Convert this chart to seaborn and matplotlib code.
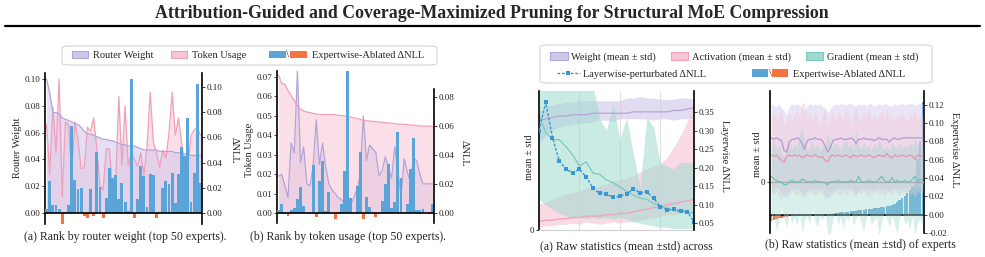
import matplotlib
matplotlib.use("Agg")
import matplotlib.pyplot as plt
import seaborn as sns
import numpy as np
import pandas as pd
from matplotlib.patches import Patch, Rectangle, FancyBboxPatch
from matplotlib.lines import Line2D
from matplotlib.text import Text
from matplotlib.legend_handler import HandlerBase

# ---------------- data ----------------
# (a) top-50 experts ranked by router weight
rw_a = [0.100, 0.090, 0.075, 0.075, 0.074, 0.071, 0.070, 0.069, 0.068, 0.067,
        0.066, 0.064, 0.061, 0.059, 0.059, 0.058, 0.057, 0.056, 0.055, 0.055,
        0.054, 0.054, 0.053, 0.052, 0.051, 0.051, 0.050, 0.050, 0.050, 0.049,
        0.048, 0.047, 0.047, 0.047, 0.047, 0.047, 0.046, 0.046, 0.046, 0.046,
        0.046, 0.045, 0.045, 0.045, 0.044, 0.044, 0.043, 0.043, 0.043, 0.043]
tok_a = [0.066, 0.029, 0.079, 0.045, 0.100, 0.012, 0.068, 0.066, 0.030, 0.068,
         0.055, 0.033, 0.034, 0.064, 0.061, 0.071, 0.048, 0.021, 0.017, 0.048,
         0.048, 0.018, 0.023, 0.087, 0.036, 0.080, 0.035, 0.045, 0.040, 0.035,
         0.045, 0.028, 0.050, 0.090, 0.053, 0.045, 0.034, 0.047, 0.041, 0.060,
         0.090, 0.058, 0.071, 0.053, 0.036, 0.034, 0.058, 0.062, 0.064, 0.058]
dnll_a = [0.003, 0.025, 0.006, 0.006, 0.003, -0.0095, 0.0005, 0.006, 0.069, 0.026,
          0.019, 0.020, -0.002, -0.004, 0.019, -0.002, 0.048, 0.021, -0.004, 0.012,
          0.036, 0.028, 0.030, 0.011, 0.024, 0.009, 0.002, 0.106, -0.004, 0.011,
          0.037, 0.029, 0.005, 0.031, 0.030, -0.004, 0.001, 0.020, 0.025, 0.023,
          0.032, 0.008, 0.031, 0.052, 0.045, 0.075, 0.0085, 0.032, 0.102, 0.024]

# (b) top-50 experts ranked by token usage
tok_b = [0.071, 0.0667, 0.0664, 0.063, 0.0605, 0.058, 0.055, 0.0535, 0.0525, 0.052,
         0.0517, 0.0513, 0.051, 0.0508, 0.0507, 0.0507, 0.0507, 0.0507, 0.0505, 0.0503,
         0.0502, 0.050, 0.0497, 0.0493, 0.049, 0.0487, 0.0482, 0.0477, 0.0475, 0.0473,
         0.0472, 0.047, 0.0468, 0.0467, 0.0465, 0.0463, 0.0462, 0.046, 0.0458, 0.0457,
         0.0457, 0.0455, 0.0453, 0.0452, 0.045, 0.0448, 0.0448, 0.0447, 0.0447, 0.0445]
rw_b = [0.019, 0.020, 0.014, 0.008, 0.036, 0.031, 0.073, 0.026, 0.034, 0.015,
        0.014, 0.024, 0.048, 0.025, 0.036, 0.024, 0.015, 0.012, 0.010, 0.008,
        0.007, 0.005, 0.005, 0.004, 0.008, 0.012, 0.020, 0.050, 0.027, 0.035,
        0.033, 0.031, 0.019, 0.022, 0.029, 0.023, 0.018, 0.034, 0.022, 0.008,
        0.028, 0.021, 0.016, 0.028, 0.027, 0.020, 0.015, 0.015, 0.015, 0.015]
dnll_b = [0.002, 0.0064, -0.001, -0.002, 0.002, 0.0037, 0.0097, 0.018, 0.005, 0.0003,
          0.001, 0.033, -0.0025, 0.022, 0.036, 0.0015, 0.0147, 0.0003, -0.004, 0.0005,
          0.0064, 0.029, 0.098, 0.010, 0.0003, 0.0189, 0.042, -0.004, 0.0108, 0.0043,
          0.001, -0.003, 0.0005, 0.008, 0.020, 0.034, 0.0035, 0.0075, 0.056, 0.024,
          0.001, 0.006, 0.030, 0.052, 0.0021, 0.0021, 0.0027, 0.0003, -0.001, 0.006]

# (c) raw statistics across 24 layers
w_mean_c = [0.79, 0.80, 0.81, 0.82, 0.82, 0.83, 0.83, 0.83, 0.84, 0.84, 0.84, 0.84,
            0.84, 0.84, 0.85, 0.85, 0.85, 0.85, 0.85, 0.85, 0.86, 0.86, 0.87, 0.88]
w_hi_c = [0.86, 0.89, 0.90, 0.91, 0.92, 0.92, 0.93, 0.93, 0.93, 0.93, 0.93, 0.93,
          0.93, 0.95, 0.95, 0.96, 0.95, 0.95, 0.94, 0.94, 0.94, 0.95, 0.95, 0.94]
w_lo_c = [0.62, 0.68, 0.72, 0.74, 0.75, 0.76, 0.77, 0.77, 0.78, 0.79, 0.79, 0.78,
          0.80, 0.80, 0.80, 0.80, 0.80, 0.79, 0.80, 0.80, 0.79, 0.80, 0.80, 0.81]
a_mean_c = [0.06, 0.07, 0.07, 0.08, 0.08, 0.09, 0.09, 0.10, 0.10, 0.10, 0.11, 0.11,
            0.12, 0.12, 0.13, 0.14, 0.15, 0.16, 0.17, 0.18, 0.19, 0.20, 0.21, 0.22]
a_hi_c = [0.19, 0.20, 0.22, 0.24, 0.26, 0.27, 0.28, 0.30, 0.31, 0.32, 0.33, 0.35,
          0.36, 0.37, 0.39, 0.42, 0.44, 0.46, 0.48, 0.52, 0.60, 0.68, 0.78, 0.92]
a_lo_c = [0.02, 0.03, 0.03, 0.04, 0.04, 0.05, 0.04, 0.06, 0.05, 0.04, 0.05, 0.06,
          0.05, 0.06, 0.06, 0.07, 0.08, 0.09, 0.10, 0.11, 0.11, 0.12, 0.12, 0.12]
g_mean_c = [0.83, 0.70, 0.65, 0.65, 0.60, 0.54, 0.46, 0.49, 0.41, 0.40, 0.36, 0.34,
            0.31, 0.28, 0.25, 0.23, 0.22, 0.19, 0.17, 0.16, 0.14, 0.13, 0.13, 0.12]
g_hi_c = [1.30, 1.30, 1.30, 1.30, 1.30, 1.30, 1.30, 1.25, 1.05, 0.80, 0.72, 0.91,
          0.65, 0.81, 0.55, 0.31, 0.81, 0.74, 0.48, 0.46, 0.44, 0.49, 0.48, 0.49]
g_lo_c = [0.22, 0.18, 0.15, 0.12, 0.10, 0.09, 0.09, 0.08, 0.09, 0.08, 0.09, 0.08,
          0.09, 0.08, 0.06, 0.05, 0.04, 0.03, 0.02, 0.02, 0.01, 0.01, 0.01, 0.01]
layer_dnll = [0.300, 0.376, 0.281, 0.218, 0.195, 0.186, 0.195, 0.175, 0.144, 0.130, 0.128, 0.119,
              0.122, 0.129, 0.142, 0.132, 0.134, 0.117, 0.094, 0.085, 0.087, 0.083, 0.081, 0.054]

# (d) raw statistics of 60 experts, sorted by expertwise dNLL
w_mean_d = [0.31, 0.30, 0.31, 0.30, 0.29, 0.22, 0.21, 0.28, 0.30, 0.30,
            0.31, 0.30, 0.27, 0.23, 0.29, 0.30, 0.30, 0.31, 0.30, 0.30,
            0.29, 0.25, 0.21, 0.24, 0.29, 0.30, 0.30, 0.31, 0.30, 0.30,
            0.30, 0.31, 0.30, 0.27, 0.30, 0.30, 0.31, 0.30, 0.30, 0.30,
            0.29, 0.30, 0.31, 0.30, 0.30, 0.30, 0.28, 0.30, 0.31, 0.30,
            0.30, 0.31, 0.31, 0.31, 0.31, 0.31, 0.31, 0.31, 0.31, 0.31]
w_hi_d = [0.55, 0.54, 0.53, 0.55, 0.52, 0.50, 0.48, 0.53, 0.55, 0.54,
          0.55, 0.54, 0.52, 0.50, 0.54, 0.55, 0.54, 0.55, 0.54, 0.55,
          0.53, 0.52, 0.49, 0.51, 0.54, 0.55, 0.54, 0.55, 0.55, 0.54,
          0.55, 0.55, 0.54, 0.53, 0.55, 0.54, 0.55, 0.54, 0.55, 0.55,
          0.53, 0.54, 0.55, 0.54, 0.55, 0.55, 0.53, 0.54, 0.55, 0.54,
          0.55, 0.55, 0.54, 0.55, 0.55, 0.55, 0.54, 0.55, 0.55, 0.55]
w_lo_d = [-0.05, -0.06, -0.04, -0.05, -0.07, -0.10, -0.11, -0.06, -0.05, -0.05,
          -0.04, -0.05, -0.08, -0.10, -0.06, -0.05, -0.05, -0.04, -0.05, -0.05,
          -0.06, -0.09, -0.12, -0.10, -0.06, -0.05, -0.05, -0.04, -0.05, -0.05,
          -0.05, -0.04, -0.05, -0.08, -0.05, -0.05, -0.04, -0.05, -0.05, -0.05,
          -0.06, -0.05, -0.04, -0.05, -0.05, -0.05, -0.07, -0.05, -0.04, -0.05,
          -0.05, -0.04, -0.04, -0.04, -0.04, -0.04, -0.04, -0.04, -0.04, -0.04]
a_mean_d = [0.19, 0.18, 0.19, 0.17, 0.15, 0.14, 0.18, 0.19, 0.18, 0.19,
            0.18, 0.19, 0.17, 0.18, 0.19, 0.18, 0.18, 0.19, 0.18, 0.17,
            0.18, 0.15, 0.14, 0.18, 0.19, 0.18, 0.19, 0.18, 0.18, 0.19,
            0.18, 0.17, 0.19, 0.18, 0.18, 0.19, 0.18, 0.18, 0.19, 0.18,
            0.17, 0.18, 0.19, 0.18, 0.18, 0.20, 0.18, 0.17, 0.19, 0.18,
            0.18, 0.19, 0.18, 0.18, 0.19, 0.18, 0.16, 0.19, 0.18, 0.19]
a_hi_d = [0.46, 0.50, 0.42, 0.48, 0.52, 0.40, 0.44, 0.49, 0.43, 0.47,
          0.51, 0.45, 0.55, 0.56, 0.44, 0.48, 0.42, 0.50, 0.46, 0.41,
          0.47, 0.52, 0.39, 0.45, 0.49, 0.43, 0.50, 0.47, 0.44, 0.52,
          0.46, 0.41, 0.48, 0.53, 0.45, 0.42, 0.49, 0.46, 0.51, 0.44,
          0.48, 0.43, 0.47, 0.50, 0.45, 0.52, 0.44, 0.47, 0.41, 0.49,
          0.46, 0.50, 0.45, 0.43, 0.48, 0.46, 0.51, 0.44, 0.47, 0.45]
a_lo_d = [-0.07, -0.09, -0.06, -0.10, -0.12, -0.08, -0.07, -0.09, -0.06, -0.08,
          -0.10, -0.07, -0.11, -0.09, -0.06, -0.08, -0.07, -0.10, -0.08, -0.06,
          -0.09, -0.12, -0.08, -0.07, -0.09, -0.06, -0.08, -0.10, -0.07, -0.09,
          -0.08, -0.06, -0.10, -0.09, -0.07, -0.08, -0.06, -0.09, -0.10, -0.07,
          -0.08, -0.06, -0.09, -0.07, -0.10, -0.08, -0.06, -0.09, -0.07, -0.08,
          -0.10, -0.07, -0.08, -0.06, -0.09, -0.08, -0.11, -0.07, -0.08, -0.07]
g_mean_d = [0.04, 0.02, 0.01, 0.00, 0.00, -0.02, -0.02, 0.00, 0.01, 0.00,
            0.00, 0.00, 0.02, 0.01, 0.00, 0.00, 0.00, 0.01, 0.00, 0.00,
            0.00, -0.01, -0.02, 0.00, 0.00, 0.00, 0.01, 0.00, 0.00, 0.00,
            0.00, 0.01, 0.00, 0.00, 0.04, 0.00, 0.00, 0.00, 0.01, 0.00,
            0.00, 0.00, 0.02, 0.04, 0.01, 0.00, 0.00, 0.03, 0.00, 0.01,
            0.00, 0.00, 0.01, 0.00, 0.00, 0.02, 0.04, 0.00, 0.02, 0.01]
g_hi_d = [0.24, 0.30, 0.22, 0.26, 0.20, 0.18, 0.25, 0.28, 0.22, 0.27,
          0.24, 0.33, 0.38, 0.26, 0.22, 0.25, 0.29, 0.23, 0.27, 0.21,
          0.26, 0.24, 0.35, 0.27, 0.23, 0.28, 0.25, 0.22, 0.26, 0.31,
          0.24, 0.27, 0.22, 0.36, 0.25, 0.23, 0.28, 0.24, 0.26, 0.22,
          0.27, 0.24, 0.30, 0.25, 0.23, 0.26, 0.22, 0.28, 0.25, 0.24,
          0.27, 0.23, 0.26, 0.24, 0.28, 0.25, 0.30, 0.26, 0.24, 0.25]
g_lo_d = [-0.30, -0.22, -0.35, -0.28, -0.18, -0.26, -0.33, -0.20, -0.29, -0.25,
          -0.31, -0.22, -0.36, -0.27, -0.24, -0.30, -0.19, -0.28, -0.32, -0.23,
          -0.27, -0.21, -0.38, -0.37, -0.26, -0.22, -0.30, -0.25, -0.33, -0.24,
          -0.28, -0.20, -0.31, -0.26, -0.23, -0.29, -0.35, -0.25, -0.22, -0.30,
          -0.27, -0.24, -0.38, -0.28, -0.21, -0.26, -0.32, -0.24, -0.29, -0.37,
          -0.25, -0.22, -0.30, -0.27, -0.33, -0.24, -0.38, -0.28, -0.26, -0.30]
dnll_d = [-0.0065, -0.0055, -0.0045, -0.0038, -0.0032, -0.0027, -0.0022, -0.0018, -0.0014, -0.0011,
          -0.0008, -0.0005, -0.0003, 0.0, 0.0, 0.0, 0.0001, 0.0001, 0.0002, 0.0002,
          0.0003, 0.0004, 0.0005, 0.0008, 0.0012, 0.0016, 0.0020, 0.0024, 0.0028, 0.0031,
          0.0034, 0.0037, 0.0040, 0.0043, 0.0046, 0.0050, 0.0054, 0.0058, 0.0062, 0.0066,
          0.0070, 0.0074, 0.0078, 0.0082, 0.0086, 0.0091, 0.0096, 0.0105, 0.0118, 0.0135,
          0.0155, 0.0180, 0.0205, 0.0235, 0.0270, 0.0310, 0.0380, 0.0610, 0.0800, 0.1230]

# ---------------- style ----------------
PURPLE_FILL, PURPLE_LINE = "#cfc6ea", "#b4a5d8"
PINK_FILL, PINK_LINE = "#f6c6d6", "#f0a0bb"
TEAL_FILL, TEAL_LINE = "#9fd9cf", "#79cbbd"
BLUE, ORANGE = "#5ba4d8", "#f4733f"
LINE_BLUE = "#3b96d4"

sns.set_theme(style="white")
plt.rcParams["font.family"] = ["Liberation Serif", "DejaVu Serif"]
plt.rcParams["mathtext.fontset"] = "stix"
TICK_FS, LAB_FS, LEG_FS, CAP_FS = 6.5, 7.5, 7.5, 8.5

W, H = 985, 257
fig = plt.figure(figsize=(W / 100, H / 100), dpi=100)


def box(l, t, r, b):
    return [l / W, 1 - b / H, (r - l) / W, (b - t) / H]


def ftext(x, y, s, **kw):
    fig.text(x / W, 1 - y / H, s, ha="center", va="center", **kw)


def style_axes(ax, ax2):
    for a in (ax, ax2):
        for s in ("top", "bottom"):
            a.spines[s].set_visible(False)
    ax.spines["right"].set_visible(False)
    ax2.spines["left"].set_visible(False)
    ax.spines["left"].set_color("black")
    ax.spines["left"].set_linewidth(1.2)
    ax2.spines["right"].set_color("black")
    ax2.spines["right"].set_linewidth(1.2)
    ax.tick_params(axis="y", left=True, length=2, width=0.6, pad=1.5, labelsize=TICK_FS, colors="#222222")
    ax2.tick_params(axis="y", right=True, length=2, width=0.6, pad=1.5, labelsize=TICK_FS, colors="#222222")
    ax.tick_params(axis="x", bottom=False, labelbottom=False)
    ax.set_xlabel("")
    ax.set_ylabel("")
    ax2.set_xlabel("")
    ax2.set_ylabel("")


def dnll_bars(ax2, vals):
    df = pd.DataFrame({"expert": np.arange(len(vals)), "dnll": vals})
    df["sign"] = np.where(df["dnll"] >= 0, "pos", "neg")
    sns.barplot(data=df, x="expert", y="dnll", hue="sign", palette={"pos": BLUE, "neg": ORANGE},
                dodge=False, width=0.92, saturation=1, legend=False, ax=ax2, linewidth=0)
    ax2.axhline(0, color="black", lw=1.2, zorder=5)


def rank_panel(rect, line_main, line_other, dnll, col_main, col_other, ylim1, ylim2, yt1, yt2):
    ax = fig.add_axes(box(*rect))
    x = np.arange(len(line_main))
    ax.fill_between(x, 0, line_other, color=col_other[0], alpha=0.55, lw=0)
    sns.lineplot(x=x, y=line_other, color=col_other[1], lw=0.9, ax=ax)
    ax.fill_between(x, 0, line_main, color=col_main[0], alpha=0.55, lw=0)
    sns.lineplot(x=x, y=line_main, color=col_main[1], lw=0.9, ax=ax)
    ax2 = ax.twinx()
    dnll_bars(ax2, dnll)
    ax.set_xlim(-0.5, len(x) - 0.5)
    ax2.set_xlim(-0.5, len(x) - 0.5)
    ax.set_ylim(*ylim1)
    ax2.set_ylim(*ylim2)
    ax.set_yticks(yt1)
    ax2.set_yticks(yt2)
    ax.yaxis.set_major_formatter(matplotlib.ticker.FormatStrFormatter("%.2f"))
    ax2.yaxis.set_major_formatter(matplotlib.ticker.FormatStrFormatter("%.2f"))
    style_axes(ax, ax2)
    ax2.set_xticks([0, 10, 20, 30, 40])
    ax2.tick_params(axis="x", bottom=True, length=1.5, width=0.6, labelbottom=False)
    return ax, ax2


# ---------------- title ----------------
ftext(492, 13, "Attribution-Guided and Coverage-Maximized Pruning for Structural MoE Compression",
      fontsize=12.8, fontweight="bold")
fig.add_artist(Line2D([5 / W, 980 / W], [1 - 26 / H] * 2, color="black", lw=1.6))

# ---------------- (a) ----------------
ax_a, ax_a2 = rank_panel((45, 73, 202, 224), rw_a, tok_a, dnll_a,
                         (PURPLE_FILL, PURPLE_LINE), (PINK_FILL, PINK_LINE),
                         (-0.0082, 0.1045), (-0.0087, 0.111),
                         [0, 0.02, 0.04, 0.06, 0.08, 0.10], [0, 0.02, 0.04, 0.06, 0.08, 0.10])
ftext(17, 148, "Router Weight", rotation=90, fontsize=LAB_FS)
ftext(234, 150, "ΔNLL", rotation=270, fontsize=LAB_FS)
ftext(125, 237, "(a) Rank by router weight (top 50 experts).", fontsize=CAP_FS)

# ---------------- (b) ----------------
ax_b, ax_b2 = rank_panel((277, 71, 434, 223), tok_b, rw_b, dnll_b,
                         (PINK_FILL, PINK_LINE), (PURPLE_FILL, PURPLE_LINE),
                         (-0.00515, 0.0731), (-0.0069, 0.0979),
                         [0, 0.01, 0.02, 0.03, 0.04, 0.05, 0.06, 0.07], [0, 0.02, 0.04, 0.06, 0.08])
ax_b2.spines["right"].set_bounds(-0.0069, 0.0855)
ftext(249, 150, "Token Usage", rotation=90, fontsize=LAB_FS)
ftext(464, 153, "ΔNLL", rotation=270, fontsize=LAB_FS)
ftext(348, 237, "(b) Rank by token usage (top 50 experts).", fontsize=CAP_FS)

# ---------------- (c) ----------------
ax_c = fig.add_axes(box(539, 91, 694, 230))
xl = np.arange(len(layer_dnll))
ax_c.fill_between(xl, w_lo_c, w_hi_c, color=PURPLE_FILL, alpha=0.6, lw=0)
ax_c.fill_between(xl, a_lo_c, a_hi_c, color=PINK_FILL, alpha=0.65, lw=0)
ax_c.fill_between(xl, g_lo_c, g_hi_c, color=TEAL_FILL, alpha=0.55, lw=0)
sns.lineplot(x=xl, y=w_mean_c, color=PURPLE_LINE, lw=0.9, ax=ax_c)
sns.lineplot(x=xl, y=a_mean_c, color=PINK_LINE, lw=0.9, ax=ax_c)
sns.lineplot(x=xl, y=g_mean_c, color=TEAL_LINE, lw=0.9, ax=ax_c)
ax_c.set_xlim(0, len(xl) - 1)
ax_c.set_ylim(0, 1)
ax_c.set_yticks([0])
ax_c.set_yticklabels(["0"])
ax_c2 = ax_c.twinx()
sns.lineplot(x=xl, y=layer_dnll, color=LINE_BLUE, lw=1.0, ls=(0, (2, 1.2)), marker="s",
             markersize=2.8, markeredgewidth=0, ax=ax_c2)
ax_c2.set_ylim(0.0311, 0.4068)
ax_c2.set_yticks([0.05, 0.10, 0.15, 0.20, 0.25, 0.30, 0.35])
ax_c2.yaxis.set_major_formatter(matplotlib.ticker.FormatStrFormatter("%.2f"))
style_axes(ax_c, ax_c2)
ax_c.set_xticks([6, 12, 18])
ax_c.grid(axis="x", color="#e2e2e2", lw=0.8)
ax_c2.tick_params(axis="x", bottom=False, labelbottom=False)
ax_c.spines["bottom"].set_visible(True)
ax_c.spines["bottom"].set_color("#cfcfcf")
ax_c.spines["bottom"].set_linewidth(0.8)
ftext(529, 157, "mean ± std", rotation=90, fontsize=LAB_FS)
ftext(725, 156, "Layerwise ΔNLL", rotation=270, fontsize=LAB_FS)
ftext(626, 246, "(a) Raw statistics (mean ±std) across", fontsize=CAP_FS)

# ---------------- (d) ----------------
ax_d = fig.add_axes(box(770, 91, 924, 233))
xe = np.arange(len(dnll_d))
ax_d2 = ax_d.twinx()
dnll_bars(ax_d2, dnll_d)
ax_d.fill_between(xe, w_lo_d, w_hi_d, color=PURPLE_FILL, alpha=0.45, lw=0)
ax_d.fill_between(xe, a_lo_d, a_hi_d, color=PINK_FILL, alpha=0.45, lw=0)
ax_d.fill_between(xe, g_lo_d, g_hi_d, color=TEAL_FILL, alpha=0.4, lw=0)
ax_d.axhline(0, color="#aaaaaa", lw=0.9)
sns.lineplot(x=xe, y=w_mean_d, color="#b49ad6", lw=0.9, ax=ax_d)
sns.lineplot(x=xe, y=a_mean_d, color="#ec8fb0", lw=0.9, ax=ax_d)
sns.lineplot(x=xe, y=g_mean_d, color="#6cc4b4", lw=0.9, ax=ax_d)
ax_d.set_zorder(ax_d2.get_zorder() + 1)
ax_d.patch.set_visible(False)
ax_d.set_xlim(-0.5, len(xe) - 0.5)
ax_d2.set_xlim(-0.5, len(xe) - 0.5)
ax_d.set_ylim(-0.36, 0.64)
ax_d.set_yticks([0])
ax_d.set_yticklabels(["0"])
ax_d2.set_ylim(-0.02, 0.135)
ax_d2.set_yticks([-0.02, 0.0, 0.02, 0.04, 0.06, 0.08, 0.10, 0.12])
ax_d2.yaxis.set_major_formatter(matplotlib.ticker.FormatStrFormatter("%.2f"))
style_axes(ax_d, ax_d2)
ax_d2.set_xticks([10, 20, 30, 40, 50])
ax_d2.tick_params(axis="x", bottom=True, length=1.5, width=0.6, labelbottom=False)
ftext(757, 154, "mean ± std", rotation=90, fontsize=LAB_FS)
ftext(955, 150, "Expertwise ΔNLL", rotation=270, fontsize=LAB_FS)
ftext(860, 245, "(b) Raw statistics (mean ±std) of experts", fontsize=CAP_FS)


# ---------------- legends ----------------
class PairHandler(HandlerBase):
    def create_artists(self, legend, orig_handle, xdescent, ydescent, width, height, fontsize, trans):
        x0, y0 = -xdescent, -ydescent
        blue = Rectangle((x0, y0), width * 0.45, height, fc=BLUE, ec="none", transform=trans)
        orange = Rectangle((x0 + width * 0.56, y0), width * 0.44, height, fc=ORANGE, ec="none", transform=trans)
        slash = Text(x0 + width * 0.505, y0 + height / 2, "\\", ha="center", va="center",
                     fontsize=fontsize, transform=trans)
        return [blue, orange, slash]


def frame(l, t, r, b):
    fig.add_artist(FancyBboxPatch((l / W, 1 - b / H), (r - l) / W, (b - t) / H,
                                  boxstyle="round,pad=0,rounding_size=0.008",
                                  transform=fig.transFigure, fc="white", ec="#d4d4d4",
                                  lw=0.8, zorder=0))


def mini_legend(handles, labels, x, y, hl, **kw):
    opts = dict(loc="center left", bbox_to_anchor=(x / W, 1 - y / H), frameon=False,
                borderpad=0, borderaxespad=0, fontsize=LEG_FS, handlelength=hl,
                handleheight=0.75, handletextpad=0.5, columnspacing=1.4)
    opts.update(kw)
    fig.legend(handles, labels, **opts)


pair = Patch()
frame(62, 46, 437, 65)
mini_legend([Patch(fc=PURPLE_FILL, ec=PURPLE_LINE, lw=0.8), Patch(fc=PINK_FILL, ec=PINK_LINE, lw=0.8)],
            ["Router Weight", "Token Usage"], 72, 55.5, 1.55, ncol=2, columnspacing=1.6)
mini_legend([pair], ["Expertwise-Ablated ΔNLL"], 269, 55.5, 3.6,
            handler_map={pair: PairHandler()}, handletextpad=0.55)

frame(540, 45, 932, 83)
mini_legend([Patch(fc=PURPLE_FILL, ec=PURPLE_LINE, lw=0.8),
             Patch(fc=PINK_FILL, ec=PINK_LINE, lw=0.8),
             Patch(fc=TEAL_FILL, ec=TEAL_LINE, lw=0.8)],
            ["Weight (mean ± std)", "Activation (mean ± std)", "Gradient (mean ± std)"],
            550, 57, 1.7, ncol=3, handletextpad=0.35, columnspacing=1.4)
mini_legend([Line2D([], [], color=LINE_BLUE, lw=1.0, ls=(0, (2, 1.2)), marker="s", markersize=2.8,
                    markeredgewidth=0)],
            ["Layerwise-perturbated ΔNLL"], 557, 74, 2.2, handletextpad=0.3)
pair2 = Patch()
mini_legend([pair2], ["Expertwise-Ablated ΔNLL"], 752, 74, 3.5,
            handler_map={pair2: PairHandler()}, handletextpad=0.45)

fig.savefig("out.png", dpi=100)
